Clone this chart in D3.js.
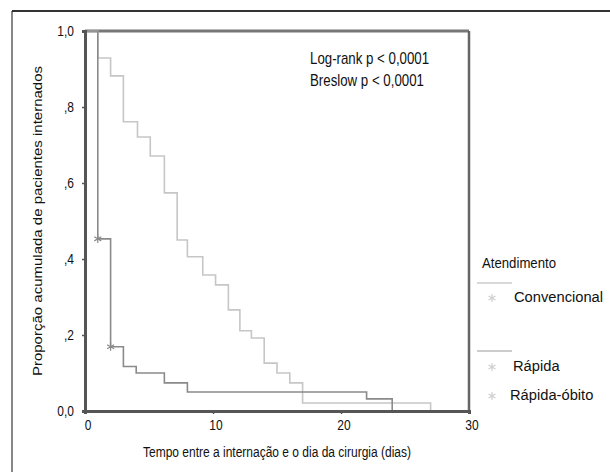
<!DOCTYPE html>
<html>
<head>
<meta charset="utf-8">
<script src="https://cdn.jsdelivr.net/npm/d3@7"></script>
<style>
  body { margin: 0; background: #fff; }
  text { font-family: "Liberation Sans", Arial, sans-serif; fill: #111; }
</style>
</head>
<body>
<div id="chart"></div>
<script>
// Kaplan-Meier values
const convTimes = [0, 1, 2, 3, 4.1, 5.1, 6.2, 7.2, 8, 9.2, 10.2, 11.2, 12.1, 13, 14, 15, 16, 17, 27];
const convSurv  = [1, 0.929, 0.882, 0.761, 0.721, 0.671, 0.574, 0.45, 0.406, 0.358, 0.332, 0.266, 0.211, 0.192, 0.126, 0.1, 0.074, 0.021, 0];
const rapTimes = [0, 1, 2, 3, 4, 6.2, 8, 22, 24];
const rapSurv  = [1, 0.453, 0.169, 0.117, 0.1, 0.074, 0.05, 0.032, 0];
// censored marks (Rápida-óbito)
const obitoTimes = [1, 2];
const obitoSurv  = [0.453, 0.169];

const xTicks = [0, 10, 20, 30];
const yTicks = [0, 0.2, 0.4, 0.6, 0.8, 1];
const yTickLabels = ["0,0", ",2", ",4", ",6", ",8", "1,0"];
const legendLabels = ["Convencional", "Rápida", "Rápida-óbito"];
const stats = ["Log-rank p < 0,0001", "Breslow p < 0,0001"];

const width = 610, height = 472;
const sx = 0.8; // the figure looks squeezed horizontally

const svg = d3.select("#chart").append("svg")
    .attr("width", width)
    .attr("height", height);

const x = d3.scaleLinear().domain([0, 30]).range([85, 469]);
const y = d3.scaleLinear().domain([0, 1]).range([411, 31]);

// helper: squeezed text
function label(g, tx, ty, str, size, anchor, squeeze) {
    return g.append("text")
        .attr("transform", `translate(${tx},${ty}) scale(${squeeze || sx},1)`)
        .attr("text-anchor", anchor || "start")
        .attr("dominant-baseline", "central")
        .style("font-size", size + "px")
        .text(str);
}

// outer box (cropped at right and bottom)
svg.append("line").attr("x1", 12).attr("x2", 610).attr("y1", 11).attr("y2", 11)
    .attr("stroke", "#333").attr("stroke-width", 2);
svg.append("line").attr("x1", 12).attr("x2", 12).attr("y1", 11).attr("y2", 472)
    .attr("stroke", "#111").attr("stroke-width", 1);

// frame top and right
svg.append("line").attr("x1", x(0)).attr("x2", x(30)).attr("y1", y(1)).attr("y2", y(1))
    .attr("stroke", "#777").attr("stroke-width", 3);
svg.append("line").attr("x1", x(30)).attr("x2", x(30)).attr("y1", y(1)).attr("y2", y(0))
    .attr("stroke", "#666").attr("stroke-width", 2.5);

// curves
const line = d3.line()
    .x(d => x(d[0]))
    .y(d => y(d[1]))
    .curve(d3.curveStepAfter);

svg.append("path")
    .datum(convTimes.map((t, i) => [t, convSurv[i]]))
    .attr("d", line)
    .attr("fill", "none")
    .attr("stroke", "#c6c6c6")
    .attr("stroke-width", 1.6);

svg.append("path")
    .datum(rapTimes.map((t, i) => [t, rapSurv[i]]))
    .attr("d", line)
    .attr("fill", "none")
    .attr("stroke", "#8a8a8a")
    .attr("stroke-width", 1.6);

const star = d3.symbol().type(d3.symbolAsterisk).size(45);
svg.selectAll(".cens")
    .data(obitoTimes.map((t, i) => [t, obitoSurv[i]]))
    .enter()
    .append("path")
    .attr("class", "cens")
    .attr("transform", d => `translate(${x(d[0])},${y(d[1])})`)
    .attr("d", star)
    .attr("fill", "none")
    .attr("stroke", "#8a8a8a")
    .attr("stroke-width", 1.2);

// axes
const xAxis = svg.append("g")
    .attr("transform", `translate(0,${y(0)})`)
    .call(d3.axisBottom(x).tickValues(xTicks).tickSize(3).tickFormat(""));
const yAxis = svg.append("g")
    .attr("transform", `translate(${x(0)},0)`)
    .call(d3.axisLeft(y).tickValues(yTicks).tickSize(3).tickFormat(""));
[xAxis, yAxis].forEach(a => {
    a.select(".domain").attr("stroke", "#555").attr("stroke-width", 3);
    a.selectAll(".tick line").attr("stroke", "#555").attr("stroke-width", 1.5);
});

xTicks.forEach(t => label(svg, x(t) + 3, 425, String(t), 15, "middle"));
yTicks.forEach((t, i) => label(svg, 74, y(t), yTickLabels[i], 15, "end"));

// axis titles
label(svg, 277, 452, "Tempo entre a internação e o dia da cirurgia (dias)", 15, "middle");
svg.append("text")
    .attr("transform", `translate(38,221) rotate(-90) scale(1,${sx})`)
    .attr("text-anchor", "middle")
    .attr("dominant-baseline", "central")
    .style("font-size", "15px")
    .text("Proporção acumulada de pacientes internados");

// test results
stats.forEach((s, i) => label(svg, 310, 59 + i * 22, s, 16, "start", 0.83));

// legend
label(svg, 482, 263, "Atendimento", 15, "start", 0.88);
const legColors = ["#cccccc", "#bbbbbb"];
const legLineY = [283, 351];
legLineY.forEach((ly, i) => {
    svg.append("line").attr("x1", 477).attr("x2", 512).attr("y1", ly).attr("y2", ly)
        .attr("stroke", legColors[i]).attr("stroke-width", 1.5);
});
const legY = [298, 367, 396];
const legX = [514, 513, 510];
legendLabels.forEach((s, i) => {
    svg.append("path")
        .attr("transform", `translate(492,${legY[i]})`)
        .attr("d", star)
        .attr("fill", "none")
        .attr("stroke", "#cfcfcf")
        .attr("stroke-width", 1.2);
    label(svg, legX[i], legY[i] - 1, s, 15, "start", 0.98);
});
</script>
</body>
</html>
